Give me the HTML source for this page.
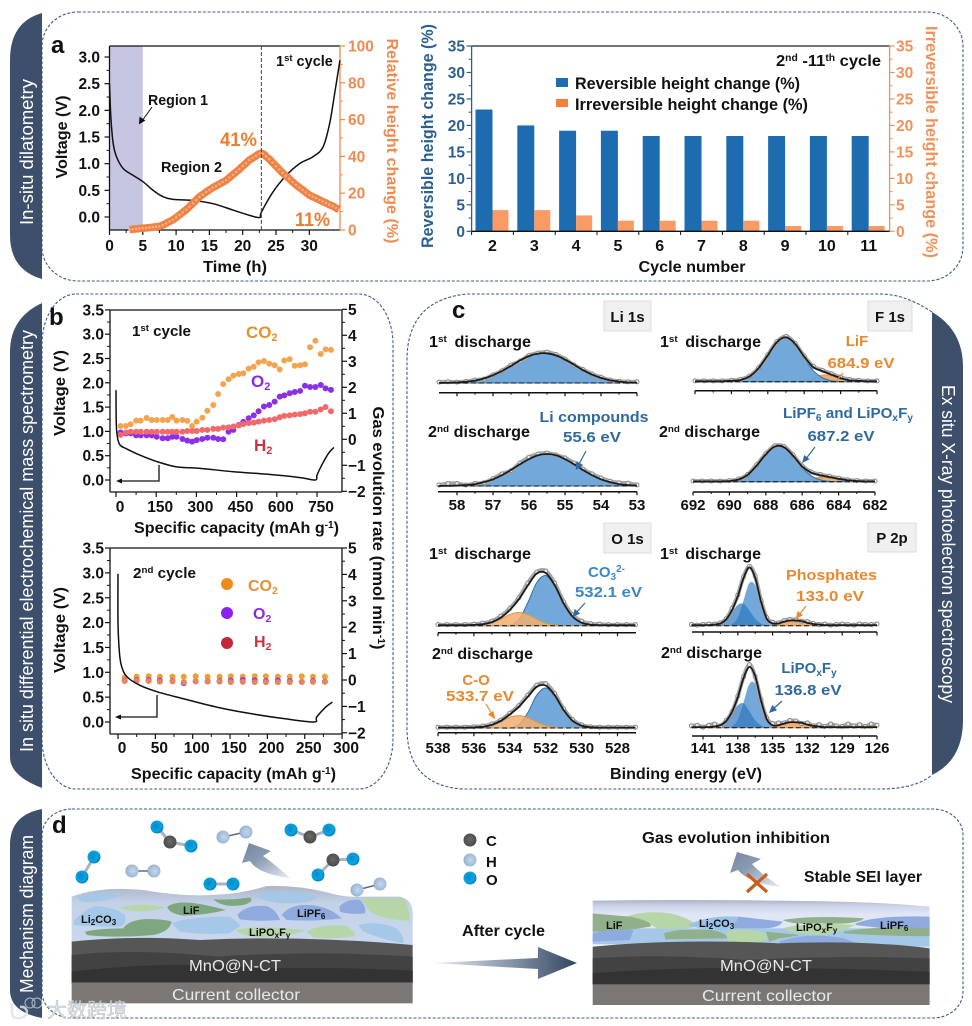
<!DOCTYPE html>
<html lang="en">
<head>
<meta charset="utf-8">
<title>Dilatometry, mass spectrometry and XPS figure</title>
<style>
html,body{margin:0;padding:0;background:#fff;width:972px;height:1026px;overflow:hidden}
svg{display:block;filter:blur(.35px)}
text{font-family:"Liberation Sans","Noto Sans CJK SC",sans-serif;font-weight:700;fill:#111}
.tab{fill:#fff;font-weight:400;font-size:18px}
.ann{font-size:16px}
.m{font-size:11px}
.light{font-weight:400;fill:#e8e8e8;font-size:16px}
.frame{fill:none;stroke:#3d5a85;stroke-width:1.1;stroke-dasharray:3 1.8}
.tabbg{fill:#3d4f6b}
</style>
</head>
<body>
<svg id="fig" xmlns="http://www.w3.org/2000/svg" width="972" height="1026" viewBox="0 0 972 1026">
<defs>
<radialGradient id="atomO" cx=".4" cy=".4" r=".7"><stop offset="0" stop-color="#0a88c8"/><stop offset=".6" stop-color="#08a4e0"/><stop offset="1" stop-color="#0a6fa8"/></radialGradient>
<radialGradient id="atomC" cx=".5" cy=".45" r=".7"><stop offset="0" stop-color="#6a6a6a"/><stop offset=".7" stop-color="#4d4d4d"/><stop offset="1" stop-color="#333"/></radialGradient>
<radialGradient id="atomH" cx=".55" cy=".5" r=".7"><stop offset="0" stop-color="#c4d8ee"/><stop offset=".65" stop-color="#a0bad6"/><stop offset="1" stop-color="#6e88a5"/></radialGradient>
<linearGradient id="seiTop" x1="0" y1="0" x2="0" y2="1"><stop offset="0" stop-color="#aeb6c8"/><stop offset=".3" stop-color="#c4d2e8"/><stop offset="1" stop-color="#c9d8ee"/></linearGradient>
<linearGradient id="seiTopAfter" x1="0" y1="0" x2="0" y2="1"><stop offset="0" stop-color="#aab3c8"/><stop offset=".14" stop-color="#cfd7ea"/><stop offset=".3" stop-color="#e0e6f6"/><stop offset="1" stop-color="#e0e6f6"/></linearGradient>
<linearGradient id="curveArrow" x1="1" y1="1" x2="0" y2="0"><stop offset="0" stop-color="#e8edf3"/><stop offset=".6" stop-color="#8a9ab2"/><stop offset="1" stop-color="#74879f"/></linearGradient>
<linearGradient id="afterArrow" x1="0" y1="0" x2="1" y2="0"><stop offset="0" stop-color="#eef1f5"/><stop offset=".5" stop-color="#8c9bb0"/><stop offset="1" stop-color="#34465f"/></linearGradient>
</defs>

<!-- Frames and tabs -->
<rect class="frame" x="42" y="12" width="921" height="269" rx="36" ry="34"/>
<path class="tabbg" d="M42 13Q10 22 10 60L10 235Q10 270 42 279Z"/>
<text class="tab" transform="rotate(-90 33 152)" x="33" y="152" text-anchor="middle" textLength="146" lengthAdjust="spacingAndGlyphs">In-situ dilatometry</text>

<rect class="frame" x="42" y="294" width="351" height="495" rx="34" ry="50"/>
<path class="tabbg" d="M42 303Q10 318 10 352L10 757Q10 776 42 788Z"/>
<text class="tab" transform="rotate(-90 33 541)" x="33" y="541" text-anchor="middle" textLength="422" lengthAdjust="spacingAndGlyphs">In situ differential electrochemical mass spectrometry</text>

<path class="frame" d="M932 312Q905 294 880 294L467 294Q407 300 407 360L407 728Q407 785 462 789L880 789Q915 789 932 775"/>
<path class="tabbg" d="M932 312Q963 330 963 367L963 720Q963 760 932 775Z"/>
<text class="tab" transform="rotate(90 942 544)" x="942" y="544" text-anchor="middle" textLength="318" lengthAdjust="spacingAndGlyphs">Ex situ X-ray photoelectron spectroscopy</text>

<rect class="frame" x="42" y="809" width="921" height="209" rx="30" ry="26"/>
<path class="tabbg" d="M42 809Q10 815 10 845L10 990Q10 1012 42 1018Z"/>
<text class="tab" transform="rotate(-90 33 914)" x="33" y="914" text-anchor="middle" textLength="158" lengthAdjust="spacingAndGlyphs">Mechanism diagram</text>

<!-- Panel letters -->
<text x="51" y="53" font-size="24">a</text>
<text x="49" y="325" font-size="24">b</text>
<text x="452" y="318" font-size="24">c</text>
<text x="52" y="833" font-size="24">d</text>

<!-- Chart layers filled by script -->
<g id="chartA"></g>
<g id="chartBars"></g>
<g id="chartB1"></g>
<g id="chartB2"></g>
<g id="chartC"></g>

<!-- Panel a annotations -->
<text font-size="16" transform="rotate(-90 67 137)" x="67" y="137" text-anchor="middle" textLength="83" lengthAdjust="spacingAndGlyphs">Voltage (V)</text>
<text font-size="16" style="fill:#ef8a50" transform="rotate(90 387 141)" x="387" y="141" text-anchor="middle" textLength="205" lengthAdjust="spacingAndGlyphs">Relative height change (%)</text>
<text font-size="16" x="235" y="272" text-anchor="middle" textLength="64" lengthAdjust="spacingAndGlyphs">Time (h)</text>
<text font-size="14.5" x="276" y="66">1<tspan dy="-5" font-size="9.5">st</tspan><tspan dy="5"> cycle</tspan></text>
<text class="ann" x="148" y="105" font-size="14.5" style="font-size:14.5px" textLength="60" lengthAdjust="spacingAndGlyphs">Region 1</text>
<text class="ann" x="161" y="172" style="font-size:14.5px" textLength="61" lengthAdjust="spacingAndGlyphs">Region 2</text>
<path d="M152 107L142 121M139.500 123.500L140 117.500L144.500 120.500Z" stroke="#111" stroke-width="1" fill="#111"/>
<text font-size="19" style="fill:#ed7d31" x="220" y="146" textLength="37" lengthAdjust="spacingAndGlyphs">41%</text>
<text font-size="19" style="fill:#ed7d31" x="295" y="226" textLength="35" lengthAdjust="spacingAndGlyphs">11%</text>

<!-- Bar chart annotations -->
<text font-size="16.500" style="fill:#2a5f8f" transform="rotate(-90 433 136)" x="433" y="136" text-anchor="middle" textLength="224" lengthAdjust="spacingAndGlyphs">Reversible height change (%)</text>
<text font-size="16.500" style="fill:#f0915a" transform="rotate(90 926 142)" x="926" y="142" text-anchor="middle" textLength="232" lengthAdjust="spacingAndGlyphs">Irreversible height change (%)</text>
<text font-size="16" x="692" y="272" text-anchor="middle" textLength="107" lengthAdjust="spacingAndGlyphs">Cycle number</text>
<text font-size="16" x="776" y="66" textLength="105" lengthAdjust="spacingAndGlyphs">2<tspan dy="-5" font-size="10">nd</tspan><tspan dy="5"> -11</tspan><tspan dy="-5" font-size="10">th</tspan><tspan dy="5"> cycle</tspan></text>
<rect x="556" y="78" width="12" height="9" fill="#1e6cb0"/>
<rect x="556" y="99" width="12" height="8" fill="#f47f3f"/>
<text font-size="16.500" x="575" y="89" textLength="225" lengthAdjust="spacingAndGlyphs">Reversible height change (%)</text>
<text font-size="16.500" x="575" y="110" textLength="233" lengthAdjust="spacingAndGlyphs">Irreversible height change (%)</text>

<!-- Panel b annotations -->
<text font-size="16" transform="rotate(-90 65 393)" x="65" y="393" text-anchor="middle" textLength="86" lengthAdjust="spacingAndGlyphs">Voltage (V)</text>
<text font-size="16" transform="rotate(-90 65 630)" x="65" y="630" text-anchor="middle" textLength="86" lengthAdjust="spacingAndGlyphs">Voltage (V)</text>
<text font-size="16" transform="rotate(90 373 528)" x="373" y="528" text-anchor="middle" textLength="243" lengthAdjust="spacingAndGlyphs">Gas evolution rate (nmol min<tspan dy="-5" font-size="10">-1</tspan><tspan dy="5">)</tspan></text>
<text font-size="16" x="134" y="533" textLength="205" lengthAdjust="spacingAndGlyphs">Specific capacity (mAh g<tspan dy="-5" font-size="10">-1</tspan><tspan dy="5">)</tspan></text>
<text font-size="16" x="131" y="779" textLength="205" lengthAdjust="spacingAndGlyphs">Specific capacity (mAh g<tspan dy="-5" font-size="10">-1</tspan><tspan dy="5">)</tspan></text>
<text font-size="15" x="132" y="336" textLength="59" lengthAdjust="spacingAndGlyphs">1<tspan dy="-5" font-size="9.5">st</tspan><tspan dy="5"> cycle</tspan></text>
<text font-size="15" x="133" y="578" textLength="63" lengthAdjust="spacingAndGlyphs">2<tspan dy="-5" font-size="9.5">nd</tspan><tspan dy="5"> cycle</tspan></text>
<text font-size="17" style="fill:#e8902f" x="246" y="338">CO<tspan dy="3" font-size="11" style="fill:#e8902f">2</tspan></text>
<text font-size="17" style="fill:#8a2be2" x="251" y="387">O<tspan dy="3" font-size="11" style="fill:#8a2be2">2</tspan></text>
<text font-size="17" style="fill:#c8343f" x="254" y="451">H<tspan dy="3" font-size="11" style="fill:#c8343f">2</tspan></text>
<path d="M159 465L159 481L121 481" fill="none" stroke="#111" stroke-width="1.300"/>
<path d="M116 481L122 478.500L122 483.500Z" fill="#111"/>
<path d="M157 695L157 717L120 717" fill="none" stroke="#111" stroke-width="1.300"/>
<path d="M115 717L121 714.500L121 719.500Z" fill="#111"/>
<circle cx="227" cy="584" r="6" fill="#ef8a1f"/>
<circle cx="227" cy="613" r="6" fill="#8a22f0"/>
<circle cx="227" cy="643" r="6" fill="#c4283a"/>
<text font-size="16" style="fill:#e8902f" x="248" y="591">CO<tspan dy="3" font-size="10.500" style="fill:#e8902f">2</tspan></text>
<text font-size="16" style="fill:#8a2be2" x="253" y="619">O<tspan dy="3" font-size="10.500" style="fill:#8a2be2">2</tspan></text>
<text font-size="16" style="fill:#c8343f" x="254" y="647">H<tspan dy="3" font-size="10.500" style="fill:#c8343f">2</tspan></text>

<!-- Panel c annotations -->
<g><rect x="604" y="301" width="47" height="30" fill="#f0f0f0" stroke="#ddd"/><text x="627.500" y="322" font-size="15" text-anchor="middle">Li 1s</text></g>
<g><rect x="868" y="301" width="44" height="30" fill="#f0f0f0" stroke="#ddd"/><text x="890" y="322" font-size="15" text-anchor="middle">F 1s</text></g>
<g><rect x="604" y="523" width="47" height="30" fill="#f0f0f0" stroke="#ddd"/><text x="627.500" y="544" font-size="15" text-anchor="middle">O 1s</text></g>
<g><rect x="868" y="523" width="48" height="29" fill="#f0f0f0" stroke="#ddd"/><text x="892" y="543" font-size="15" text-anchor="middle">P 2p</text></g>

<text font-size="15.500" x="429" y="347" textLength="102" lengthAdjust="spacingAndGlyphs">1<tspan dy="-5" font-size="9.5">st</tspan><tspan dy="5" dx="3"> discharge</tspan></text>
<text font-size="15.500" x="428" y="437" textLength="102" lengthAdjust="spacingAndGlyphs">2<tspan dy="-5" font-size="9.5">nd</tspan><tspan dy="5"> discharge</tspan></text>
<text font-size="15.500" x="660" y="347" textLength="101" lengthAdjust="spacingAndGlyphs">1<tspan dy="-5" font-size="9.5">st</tspan><tspan dy="5" dx="3"> discharge</tspan></text>
<text font-size="15.500" x="659" y="437" textLength="101" lengthAdjust="spacingAndGlyphs">2<tspan dy="-5" font-size="9.5">nd</tspan><tspan dy="5"> discharge</tspan></text>
<text font-size="15.500" x="429" y="559" textLength="102" lengthAdjust="spacingAndGlyphs">1<tspan dy="-5" font-size="9.5">st</tspan><tspan dy="5" dx="3"> discharge</tspan></text>
<text font-size="15.500" x="432" y="659" textLength="101" lengthAdjust="spacingAndGlyphs">2<tspan dy="-5" font-size="9.5">nd</tspan><tspan dy="5"> discharge</tspan></text>
<text font-size="15.500" x="660" y="559" textLength="101" lengthAdjust="spacingAndGlyphs">1<tspan dy="-5" font-size="9.5">st</tspan><tspan dy="5" dx="3"> discharge</tspan></text>
<text font-size="15.500" x="661" y="658" textLength="101" lengthAdjust="spacingAndGlyphs">2<tspan dy="-5" font-size="9.5">nd</tspan><tspan dy="5"> discharge</tspan></text>

<text font-size="15" style="fill:#2f6a9f" x="594" y="422" text-anchor="middle" textLength="109" lengthAdjust="spacingAndGlyphs">Li compounds</text>
<text font-size="15" style="fill:#2f6a9f" x="592" y="442" text-anchor="middle" textLength="58" lengthAdjust="spacingAndGlyphs">55.6 eV</text>
<path d="M586 451L578 466M576.500 469L577 462L582 465Z" stroke="#2f6a9f" stroke-width="1.200" fill="#2f6a9f"/>
<text font-size="15" style="fill:#e8892f" x="857" y="346" text-anchor="middle">LiF</text>
<text font-size="15" style="fill:#e8892f" x="861" y="368" text-anchor="middle" textLength="67" lengthAdjust="spacingAndGlyphs">684.9 eV</text>
<path d="M843 373L836 381" stroke="#e8892f" stroke-width="1.200" fill="none"/>
<text font-size="15" style="fill:#2f6a9f" x="783" y="418" textLength="130" lengthAdjust="spacingAndGlyphs">LiPF<tspan dy="3" font-size="10" style="fill:#2f6a9f">6</tspan><tspan dy="-3" style="fill:#2f6a9f"> and LiPO</tspan><tspan dy="3" font-size="10" style="fill:#2f6a9f">x</tspan><tspan dy="-3" style="fill:#2f6a9f">F</tspan><tspan dy="3" font-size="10" style="fill:#2f6a9f">y</tspan></text>
<text font-size="15" style="fill:#2f6a9f" x="841" y="441" text-anchor="middle" textLength="67" lengthAdjust="spacingAndGlyphs">687.2 eV</text>
<path d="M815 447L805 460M803 462L804.500 456L808.500 459Z" stroke="#2f6a9f" stroke-width="1.200" fill="#2f6a9f"/>
<text font-size="15" style="fill:#3b87c4" x="588" y="577">CO<tspan dy="3" font-size="10" style="fill:#3b87c4">3</tspan><tspan dy="-8" font-size="10" style="fill:#3b87c4">2-</tspan></text>
<text font-size="15" style="fill:#3b87c4" x="575" y="597" textLength="67" lengthAdjust="spacingAndGlyphs">532.1 eV</text>
<path d="M585 603L575 614M573.500 616L575 610L579 613.500Z" stroke="#2f6a9f" stroke-width="1.200" fill="#2f6a9f"/>
<text font-size="15" style="fill:#e8892f" x="476" y="685" text-anchor="middle">C-O</text>
<text font-size="15" style="fill:#e8892f" x="446" y="701" textLength="68" lengthAdjust="spacingAndGlyphs">533.7 eV</text>
<path d="M486 704L493 716M494.500 718L489 714.500L493 712Z" stroke="#e8892f" stroke-width="1.200" fill="#e8892f"/>
<text font-size="15" style="fill:#e8892f" x="786" y="580" textLength="91" lengthAdjust="spacingAndGlyphs">Phosphates</text>
<text font-size="15" style="fill:#e8892f" x="830" y="601" text-anchor="middle" textLength="68" lengthAdjust="spacingAndGlyphs">133.0 eV</text>
<path d="M806 606L798 616M796.500 618L798 612L802 615Z" stroke="#e8892f" stroke-width="1.200" fill="#e8892f"/>
<text font-size="15" style="fill:#2f6a9f" x="809" y="673" text-anchor="middle">LiPO<tspan dy="3" font-size="10" style="fill:#2f6a9f">x</tspan><tspan dy="-3" style="fill:#2f6a9f">F</tspan><tspan dy="3" font-size="10" style="fill:#2f6a9f">y</tspan></text>
<text font-size="15" style="fill:#2f6a9f" x="808" y="695" text-anchor="middle" textLength="67" lengthAdjust="spacingAndGlyphs">136.8 eV</text>
<path d="M782 701L772 710M770 712L772.500 706L776 710Z" stroke="#2f6a9f" stroke-width="1.200" fill="#2f6a9f"/>
<text font-size="16" x="610" y="779" textLength="152" lengthAdjust="spacingAndGlyphs">Binding energy (eV)</text>

<!-- Panel d left stack, coordinates in 1/3 px -->
<g transform="translate(0 800) scale(.33333)">
<path fill="url(#seiTop)" d="M215 290Q300 258 430 270Q560 292 650 284Q720 282 800 258Q900 255 1000 282Q1040 292 1080 290L1200 290Q1238 300 1238 340L1238 440L215 430Z"/>
<g>
<path fill="#a5c8e8" d="M232 290Q300 270 365 285Q300 310 250 305Q232 300 232 290Z"/>
<path fill="#b7d6a8" d="M360 322Q420 305 495 322Q430 345 360 325Z"/>
<path fill="#7fa77f" d="M502 320Q530 300 600 312Q650 322 678 330Q620 345 550 347Q505 340 502 320Z"/>
<path fill="#7fa77f" d="M640 298Q700 300 750 292Q765 305 730 315Q670 325 640 298Z"/>
<path fill="#a5c8e8" d="M765 285Q850 260 955 290Q940 310 860 310Q780 305 765 285Z"/>
<path fill="#8eaadf" d="M712 345Q740 312 800 318Q830 330 840 360Q770 365 720 358Z"/>
<path fill="#8eaadf" d="M845 345Q870 312 930 315Q990 320 1025 355Q940 365 860 360Z"/>
<path fill="#8eaadf" d="M1018 320Q1040 295 1080 300Q1100 320 1095 340Q1050 345 1020 335Z"/>
<path fill="#b7d6a8" d="M1085 298Q1150 292 1210 295Q1230 320 1228 362Q1150 360 1110 335Z"/>
<path fill="#a5c8e8" d="M222 362Q250 330 285 318Q340 320 375 345Q380 375 360 380Q280 380 222 375Z"/>
<path fill="#7fa77f" d="M255 395Q300 385 370 385Q385 360 440 357Q500 358 515 365Q510 395 460 405Q340 415 260 405Z"/>
<path fill="#a5c8e8" d="M515 370Q560 350 690 350Q720 370 720 380Q700 390 690 400Q600 405 540 395Z"/>
<path fill="#b7d6a8" d="M708 390Q750 375 915 390Q880 410 780 412Q730 410 708 392Z"/>
<path fill="#b7d6a8" d="M920 395Q960 370 1040 378Q1075 400 1060 410Q1000 418 940 412Z"/>
<path fill="#a5c8e8" d="M1075 375Q1130 360 1190 385Q1215 410 1210 430Q1150 420 1090 395Z"/>
</g>
<path fill="#565656" d="M215 425Q400 405 600 420Q900 405 1238 435L1238 548L215 548Z"/>
<path fill="#424242" d="M215 465Q400 445 650 470Q950 450 1238 470L1238 548L215 548Z"/>
<path fill="#333" d="M215 515Q500 480 800 505Q1000 500 1238 512L1238 548L215 548Z"/>
<rect x="215" y="548" width="1023" height="62" fill="#7a7775"/>
</g>

<!-- Panel d right stack, coordinates in zoomed px -->
<g transform="translate(440 800) scale(.33930 .33333)">
<path fill="url(#seiTopAfter)" d="M450 302Q700 298 1000 302Q1300 305 1443 320L1443 445L450 435Z"/>
<g>
<path fill="#a5c8e8" d="M450 385L1443 385L1443 440L450 432Z"/>
<path fill="#b7d6a8" d="M550 350Q600 330 680 340Q740 355 760 380Q720 390 640 385Q600 360 550 350Z"/>
<path fill="#8fb08a" d="M450 340Q500 345 560 350Q630 365 620 380Q530 395 450 395Z"/>
<path fill="#8eaadf" d="M880 350L1010 365Q1000 385 950 385Q900 385 860 385Z"/>
<path fill="#9cc2e8" d="M730 375Q790 345 880 350Q870 385 830 390Q770 390 730 375Z"/>
<path fill="#8fb08a" d="M1010 360Q1100 345 1250 355Q1230 375 1120 370Q1040 375 1010 360Z"/>
<path fill="#b7d6a8" d="M1010 385Q1080 365 1225 375Q1180 395 1130 405Q1050 405 1010 385Z"/>
<path fill="#8eaadf" d="M1225 370Q1290 345 1443 350L1443 385Q1330 390 1225 375Z"/>
<path fill="#8fb08a" d="M1190 395Q1300 375 1443 385L1443 408Q1350 410 1190 400Z"/>
<path fill="#8eaadf" d="M450 400Q510 385 570 390L560 420L450 425Z"/>
<path fill="#8fb08a" d="M660 400Q700 385 800 390Q850 400 845 415L665 418Z"/>
<path fill="#b7d6a8" d="M845 395Q910 380 975 405Q960 425 920 432L850 430Z"/>
<path fill="#8fb08a" d="M960 395L1060 405Q1040 410 1000 415L970 425Z"/>
<path fill="#8eaadf" d="M1000 425Q1080 395 1190 415Q1220 425 1230 432L1000 434Z"/>
</g>
<path fill="#565656" d="M450 440Q700 415 1000 430Q1250 420 1443 445L1443 553L450 553Z"/>
<path fill="#424242" d="M450 475Q650 460 900 480Q1200 465 1443 475L1443 553L450 553Z"/>
<path fill="#333" d="M450 520Q800 490 1443 515L1443 553L450 553Z"/>
<rect x="450" y="553" width="993" height="62" fill="#7a7775"/>
</g>

<!-- Molecules -->
<g><path d="M157 827L170 842L191 846" fill="none" stroke="#a8b4c4" stroke-width="3"/><circle cx="157" cy="827" r="6.500" fill="url(#atomO)"/><circle cx="170" cy="842" r="6.500" fill="url(#atomC)"/><circle cx="191" cy="846" r="6.500" fill="url(#atomO)"/></g>
<g><path d="M223 837L246 832" stroke="#5a6a80" stroke-width="1.500"/><circle cx="223" cy="837" r="6.500" fill="url(#atomH)"/><circle cx="246" cy="832" r="6.500" fill="url(#atomH)"/></g>
<g><path d="M291 830L310 837L329 830" fill="none" stroke="#a8b4c4" stroke-width="3"/><circle cx="291" cy="830" r="6.500" fill="url(#atomO)"/><circle cx="310" cy="837" r="6.500" fill="url(#atomC)"/><circle cx="329" cy="830" r="6.500" fill="url(#atomO)"/></g>
<g><path d="M94 857L82 877" stroke="#a8b4c4" stroke-width="3"/><circle cx="94" cy="857" r="6.500" fill="url(#atomO)"/><circle cx="82" cy="877" r="6.500" fill="url(#atomO)"/></g>
<g><path d="M132 871L154 871" stroke="#5a6a80" stroke-width="1.500"/><circle cx="132" cy="871" r="6.500" fill="url(#atomH)"/><circle cx="154" cy="871" r="6.500" fill="url(#atomH)"/></g>
<g><path d="M210 884L233 884" stroke="#a8b4c4" stroke-width="3"/><circle cx="210" cy="884" r="6.500" fill="url(#atomO)"/><circle cx="233" cy="884" r="6.500" fill="url(#atomO)"/></g>
<g><path d="M318 875L333 860L353 859" fill="none" stroke="#a8b4c4" stroke-width="3"/><circle cx="318" cy="875" r="6.500" fill="url(#atomO)"/><circle cx="333" cy="860" r="6.500" fill="url(#atomC)"/><circle cx="353" cy="859" r="6.500" fill="url(#atomO)"/></g>
<g><path d="M357 890L380 884" stroke="#5a6a80" stroke-width="1.500"/><circle cx="357" cy="890" r="6.500" fill="url(#atomH)"/><circle cx="380" cy="884" r="6.500" fill="url(#atomH)"/></g>

<!-- Atom legend -->
<circle cx="470" cy="840" r="6.500" fill="url(#atomC)"/>
<circle cx="470" cy="860" r="6.500" fill="url(#atomH)"/>
<circle cx="470" cy="878" r="6.500" fill="url(#atomO)"/>
<text font-size="15" x="486" y="846">C</text>
<text font-size="15" x="486" y="867">H</text>
<text font-size="15" x="486" y="885">O</text>

<!-- Arrows in d -->
<path fill="url(#curveArrow)" d="M249 843L242 863L250 861Q258 874 290 878Q272 862 263 856L271 851Z"/>
<path fill="url(#curveArrow)" d="M737 852L730 873L738 870Q748 883 781 887Q762 875 752 864L761 859Z"/>
<path d="M747 874L767 892M767 874L747 892" stroke="#c8601c" stroke-width="3.200" fill="none"/>
<path fill="url(#afterArrow)" d="M432 963L538 958L538 947L577 963L538 979L538 969Z"/>

<!-- Text in d -->
<text font-size="15.500" x="642" y="843" textLength="188" lengthAdjust="spacingAndGlyphs">Gas evolution inhibition</text>
<text font-size="15.500" x="804" y="882" textLength="118" lengthAdjust="spacingAndGlyphs">Stable SEI layer</text>
<text font-size="15.500" x="462" y="936" textLength="83" lengthAdjust="spacingAndGlyphs">After cycle</text>
<text class="m" x="81" y="923">Li<tspan dy="2" font-size="8">2</tspan><tspan dy="-2">CO</tspan><tspan dy="2" font-size="8">3</tspan></text>
<text class="m" x="183" y="914">LiF</text>
<text class="m" x="297" y="917">LiPF<tspan dy="2" font-size="8">6</tspan></text>
<text class="m" x="249" y="936">LiPO<tspan dy="2" font-size="8">x</tspan><tspan dy="-2">F</tspan><tspan dy="2" font-size="8">y</tspan></text>
<text class="m" x="606" y="929">LiF</text>
<text class="m" x="699" y="927">Li<tspan dy="2" font-size="8">2</tspan><tspan dy="-2">CO</tspan><tspan dy="2" font-size="8">3</tspan></text>
<text class="m" x="796" y="931">LiPO<tspan dy="2" font-size="8">x</tspan><tspan dy="-2">F</tspan><tspan dy="2" font-size="8">y</tspan></text>
<text class="m" x="880" y="929">LiPF<tspan dy="2" font-size="8">6</tspan></text>
<text class="light" x="235" y="971" text-anchor="middle" textLength="92" lengthAdjust="spacingAndGlyphs">MnO@N-CT</text>
<text class="light" x="236" y="1000" text-anchor="middle" textLength="128" lengthAdjust="spacingAndGlyphs">Current collector</text>
<text class="light" x="766" y="971" text-anchor="middle" textLength="92" lengthAdjust="spacingAndGlyphs">MnO@N-CT</text>
<text class="light" x="767" y="1001" text-anchor="middle" textLength="130" lengthAdjust="spacingAndGlyphs">Current collector</text>

<!-- Watermark -->
<g opacity=".85">
<path d="M12 1003L12 1014Q13 1019 20 1018Q27 1017 27 1011Q25 1006 20 1007" fill="none" stroke="#dfe3e8" stroke-width="2.500"/>
<circle cx="30" cy="1003" r="5" fill="none" stroke="#c8ccd2" stroke-width="1"/>
<circle cx="37" cy="1003" r="5" fill="none" stroke="#c8ccd2" stroke-width="1"/>
<text x="47" y="1017" font-size="20" style="fill:#dde0e4;stroke:#aab0b8;stroke-width:.5px;font-weight:400" textLength="80">大数跨境</text>
</g>

<script>
/* ---------- Panel a data ---------- */
const aTimeTicks = [0,5,10,15,20,25,30];
const aTimeLabels = ['0','5','10','15','20','25','30'];
const aVoltTicks = [0,0.5,1,1.5,2,2.5,3];
const aVoltLabels = ['0.0','0.5','1.0','1.5','2.0','2.5','3.0'];
const aHeightTicks = [0,20,40,60,80,100];
const aHeightLabels = ['0','20','40','60','80','100'];
const aRegionHours = [0,5];
const aCycleSwitchHour = [22.8];
const aVoltTime = [0,0.2,0.55,1.05,2.05,3.55,5.05,6.55,8.05,9.55,12.55,15.55,18.55,21.05,22.55,22.8,24.55,26.55,28.55,30.55,32.05,33.05,33.8,34.6];
const aVoltage = [2.5,1.88,1.38,1.13,0.91,0.78,0.66,0.5,0.38,0.33,0.31,0.25,0.13,0.03,-0.01,0.09,0.47,0.78,1.0,1.13,1.31,1.75,2.31,2.94];
const aHeightTime = [3,3.5,4,4.5,5,5.5,6,6.5,7,7.5,8,8.5,9,9.5,10,10.5,11,11.5,12,12.5,13,13.5,14,14.5,15,15.5,16,16.5,17,17.5,18,18.5,19,19.5,20,20.5,21,21.5,22,22.5,23,23.5,24,24.5,25,25.5,26,26.5,27,27.5,28,28.5,29,29.5,30,30.5,31,31.5,32,32.5,33,33.5,34,34.5];
const aHeight = [0.2,0.4,0.6,0.8,1,1.1,1.3,1.5,1.8,2,2.7,3.6,4.6,5.5,6.8,8.2,9.6,11,12.7,14.5,16.2,18,19.3,20.6,21.8,23,24,25,26,27,28.5,30,31.5,33,34.7,36.3,38,39.1,40.3,41.5,41.5,40,38.5,36.6,34.7,32.9,31,29.4,27.8,26.1,24.5,23.1,21.8,20.4,19,18.1,17.3,16.4,15.5,14.7,13.8,13,12,11];

/* ---------- Bar chart data ---------- */
const barCycles = ['2','3','4','5','6','7','8','9','10','11'];
const barReversible = [23,20,19,19,18,18,18,18,18,18];
const barIrreversible = [4,4,3,2,2,2,2,1,1,1];
const barTicks = [0,5,10,15,20,25,30,35];
const barTickLabels = ['0','5','10','15','20','25','30','35'];

/* ---------- Panel b data ---------- */
const bVoltTicks = [0,0.5,1,1.5,2,2.5,3,3.5];
const bVoltLabels = ['0.0','0.5','1.0','1.5','2.0','2.5','3.0','3.5'];
const bRateTicks = [-2,-1,0,1,2,3,4,5];
const bRateLabels = ['\u22122','\u22121','0','1','2','3','4','5'];
const b1CapTicks = [0,150,300,450,600,750];
const b1CapLabels = ['0','150','300','450','600','750'];
const b2CapTicks = [0,50,100,150,200,250,300];
const b2CapLabels = ['0','50','100','150','200','250','300'];
const b1Capacity = [17,37,55,75,92,114,133,152,174,193,210,226,248,266,284,301,322,341,363,381,400,420,438,458,475,495,514,532,552,572,592,611,628,648,667,687,705,724,744,764,782,802];
const b1Co2 = [0.51,0.51,0.58,0.72,0.72,0.82,0.74,0.74,0.74,0.74,0.86,0.72,0.74,0.71,0.51,0.68,0.83,1.10,1.32,1.74,2.12,2.31,2.45,2.51,2.54,2.72,2.79,2.96,3.01,2.91,2.85,2.69,3.03,3.08,2.83,2.85,2.88,3.54,3.79,3.28,3.46,3.44];
const b1O2 = [0.26,0.23,0.23,0.15,0.15,0.15,0.15,0.10,0.04,0.04,0.10,0.10,0.01,-0.05,-0.09,-0.03,0.01,0.06,0.06,0.01,0,0.29,0.36,0.55,0.67,0.81,0.92,1.08,1.26,1.32,1.45,1.64,1.69,1.77,1.82,1.86,2.06,2.01,2.01,2.09,1.96,1.90];
const b1H2 = [0.17,0.26,0.29,0.29,0.29,0.29,0.29,0.29,0.29,0.29,0.29,0.29,0.29,0.32,0.32,0.32,0.36,0.36,0.40,0.40,0.45,0.46,0.49,0.53,0.59,0.62,0.64,0.68,0.72,0.74,0.77,0.85,0.90,0.92,0.95,0.97,1.00,1.06,1.06,1.15,1.24,1.08];
const b1CurveCap = [0,1,5,15,40,90,152,226,313,438,562,687,744,750,768,793,813];
const b1CurveVolt = [1.85,1.17,0.89,0.72,0.64,0.51,0.38,0.27,0.24,0.17,0.12,0.05,0,0.10,0.31,0.55,0.67];
const b2Capacity = [9,25,41,56,73,88,104,120,136,151,167,183,198,214,230,246,261,277];
const b2Co2 = [0.10,0.13,0.14,0.13,0.13,0.13,0.14,0.13,0.13,0.14,0.13,0.14,0.14,0.13,0.13,0.14,0.13,0.13];
const b2O2 = [-0.02,-0.01,0,-0.02,-0.04,-0.12,-0.05,-0.05,-0.04,-0.02,0,-0.01,-0.04,-0.02,-0.04,-0.07,-0.04,-0.06];
const b2H2 = [-0.04,-0.04,-0.04,-0.06,-0.05,-0.08,-0.05,-0.06,-0.06,-0.08,-0.07,-0.08,-0.08,-0.08,-0.08,-0.07,-0.07,-0.07];
const b2CurveCap = [0,0,2,5,12,29,52,87,132,177,221,262,266,278,287];
const b2CurveVolt = [2.98,1.99,1.38,1.11,0.91,0.74,0.61,0.47,0.30,0.17,0.07,0,0.10,0.30,0.40];

/* ---------- Panel c data: binding energy and intensity (0-100) ---------- */
const liEnergy = [58.5,58.25,58,57.75,57.5,57.25,57,56.75,56.5,56.25,56,55.75,55.5,55.25,55,54.75,54.5,54.25,54,53.75,53.5,53.25,53];
const li1Fit = [0.3,0.8,1.9,4,8,15,26,40,57,75,90,98,99,92,78,61,43,28,17,9,5,2,1];
const li1Obs = [3,4,3,5,10,13,27,41,60,73,92,100,103,95,80,60,45,30,19,10,6,4,4];
const li2Fit = [0.2,0.5,1.3,3,6,12,21,34,50,68,84,96,100,96,84,68,50,34,21,12,6,3,1.3];
const li2Obs = [3,8,8,3,8,10,23,38,48,72,90,100,103,97,88,72,53,38,25,15,10,9,3];
const liTicks = [58,57,56,55,54,53];
const liTickLabels = ['58','57','56','55','54','53'];

const fEnergy = [692,691.5,691,690.5,690,689.5,689,688.5,688,687.5,687,686.5,686,685.5,685,684.5,684,683.5,683,682.5,682];
const f1Blue = [0,0,0,0.1,0.7,3,11,30,59,89,100,84,53,25,9,2,0.3,0,0,0,0];
const f1Orange = [0,0,0,0,0,0,0,0,0,0,0.5,1,3,8,15,14,8,3,1,0,0];
const f1Fit = [1,1,1,1,2,4,12,31,60,90,101,86,57,33,24,16,8,3,2,1,1];
const f1Obs = [2,2,2,2,3,5,13,32,61,91,103,87,58,35,26,18,10,5,3,2,2];
const f2Blue = [0,0,0,0.3,1.5,5,18,44,75,97,95,70,38,16,5,1,0.2,0,0,0,0];
const f2Orange = [0,0,0,0,0,0,0,0,0,0,0,1,3,8,12,11,7,3,1,0,0];
const f2Fit = [1,1,1,1,2,6,19,45,76,98,96,72,42,25,18,13,8,4,2,1,1];
const f2Obs = [2,2,2,2,3,7,20,47,78,100,98,74,44,27,20,15,10,5,3,2,2];
const fTicks = [692,690,688,686,684,682];
const fTickLabels = ['692','690','688','686','684','682'];

const oEnergy = [538,537.5,537,536.5,536,535.5,535,534.5,534,533.5,533,532.5,532,531.5,531,530.5,530,529.5,529,528.5,528,527.5,527];
const o1Blue = [0,0,0,0,0,0,0,0,0,12,45,85,99,78,43,17,5,1,0,0,0,0,0];
const o1Orange = [0,0,0,0,0.5,2,6,13,22,26,22,13,5,1.5,0,0,0,0,0,0,0,0,0];
const o1Fit = [1,1,1,1,1.5,3,7,16,31,52,79,103,104,80,44,18,6,2,1,1,1,1,1];
const o1Obs = [2,2,2,2,3,5,9,19,34,55,84,106,108,84,47,21,9,4,3,2,2,2,2];
const o2Blue = [0,0,0,0,0,0,0,0,0,8,38,82,100,80,44,17,5,1,0,0,0,0,0];
const o2Orange = [0,0,0,0,0.5,2,7,16,27,31,26,15,6,2,0,0,0,0,0,0,0,0,0];
const o2Fit = [1,1,1,1,1.5,3,8,18,34,53,78,103,106,82,45,18,6,2,1,1,1,1,1];
const o2Obs = [2,2,2,2,3,5,10,20,37,56,82,107,111,86,48,21,8,3,2,2,2,2,2];
const oTicks = [538,536,534,532,530,528];
const oTickLabels = ['538','536','534','532','530','528'];

const pEnergy = [142,141.5,141,140.5,140,139.5,139,138.5,138,137.5,137,136.5,136,135.5,135,134.5,134,133.5,133,132.5,132,131.5,131,130.5,130,129.5,129,128.5,128,127.5,127,126.5,126];
const p1BlueA = [0,0,0,0,0,0,0,2.6,14,44,74,70,37,10.5,1.7,0,0,0,0,0,0,0,0,0,0,0,0,0,0,0,0,0,0];
const p1BlueB = [0,0,0,0,0.5,2.7,9.7,23,36,38,26,12,3.6,0.7,0,0,0,0,0,0,0,0,0,0,0,0,0,0,0,0,0,0,0];
const p1Orange = [0,0,0,0,0,0,0,0,0,0,0,0,0,0,1,3,6,8,8,7,4,2,1,0,0,0,0,0,0,0,0,0,0];
const p1Fit = [1,1,1,1,2,4,11,27,51,83,101,83,42,12,4,4,7,9,9,8,5,3,2,1,1,1,1,1,1,1,1,1,1];
const p1Obs = [2,1,2,3,3,5,12,30,53,85,103,86,44,14,6,5,9,11,10,8,7,4,2,3,1,2,3,2,1,3,2,2,3];
const p2BlueA = [0,0,0,0,0,0,0,2,13,42,72,72,40,12,2,0,0,0,0,0,0,0,0,0,0,0,0,0,0,0,0,0,0];
const p2BlueB = [0,0,0,0,0.5,2.7,10,23,37,40,27,12,3.6,0.7,0,0,0,0,0,0,0,0,0,0,0,0,0,0,0,0,0,0,0];
const p2Orange = [0,0,0,0,0,0,0,0,0,0,0,0,0,0,1,3,6,8,9,7,4,2,1,0,0,0,0,0,0,0,0,0,0];
const p2Fit = [1,1,1,1,2,4,11,26,50,82,100,85,45,14,4,4,7,9,9,8,5,3,2,1,1,1,1,1,1,1,1,1,1];
const p2Obs = [3,4,1,4,6,3,12,26,52,84,104,84,46,16,7,8,8,12,11,7,8,3,5,2,6,3,2,6,3,5,2,6,4];
const pTicks = [141,138,135,132,129,126];
const pTickLabels = ['141','138','135','132','129','126'];

/* ---------- Helpers ---------- */
const NS = 'http://www.w3.org/2000/svg';
function el(tag, attrs, parent) {
  const n = document.createElementNS(NS, tag);
  for (const k in attrs) n.setAttribute(k, attrs[k]);
  parent.appendChild(n);
  return n;
}
function rule(parent, x1, y1, x2, y2, color, width, name) {
  const n = el('line', {x1: x1, y1: y1, x2: x2, y2: y2, stroke: color, 'stroke-width': width}, parent);
  
  
  return n;
}
function label(parent, x, y, str, anchor, color, size, name) {
  const n = el('text', {x: x, y: y, 'text-anchor': anchor, 'font-size': size, style: 'fill:' + color}, parent);
  n.textContent = str;
  
  
  return n;
}
function smooth(px, py) {
  let d = 'M' + px[0].toFixed(2) + ' ' + py[0].toFixed(2);
  for (let i = 0; i < px.length - 1; i++) {
    const a = Math.max(i - 1, 0), b = Math.min(i + 2, px.length - 1);
    const c1x = px[i] + (px[i + 1] - px[a]) / 6, c1y = py[i] + (py[i + 1] - py[a]) / 6;
    const c2x = px[i + 1] - (px[b] - px[i]) / 6, c2y = py[i + 1] - (py[b] - py[i]) / 6;
    d += 'C' + c1x.toFixed(2) + ' ' + c1y.toFixed(2) + ' ' + c2x.toFixed(2) + ' ' + c2y.toFixed(2) + ' ' + px[i + 1].toFixed(2) + ' ' + py[i + 1].toFixed(2);
  }
  return d;
}
function curve(parent, xs, ys, fx, fy, color, width, name) {
  const n = el('path', {d: smooth(xs.map(fx), ys.map(fy)), fill: 'none', stroke: color, 'stroke-width': width, 'stroke-linejoin': 'round'}, parent);
  
  
  return n;
}
function dot(parent, x, y, r, fill, stroke, name) {
  const n = el('circle', {cx: x, cy: y, r: r, fill: fill, stroke: stroke, 'stroke-width': stroke === 'none' ? 0 : 1}, parent);
  
  
  return n;
}
function ticksY(parent, axisX, dir, values, labels, fy, color, minorStep, textX, anchor, tcolor, prefix) {
  values.forEach(function (v, i) {
    rule(parent, axisX, fy(v), axisX + dir * 5, fy(v), color, 1.2, prefix + '-tick');
    label(parent, textX, fy(v) + 5.5, labels[i], anchor, tcolor, 15.5, prefix + '-tick-label');
    if (i < values.length - 1) {
      rule(parent, axisX, fy(v + minorStep), axisX + dir * 3, fy(v + minorStep), color, 1, prefix + '-minor-tick');
    }
  });
}
function ticksX(parent, axisY, values, labels, fx, color, minorStep, textY, textOffset, prefix) {
  values.forEach(function (v, i) {
    rule(parent, fx(v), axisY, fx(v), axisY + 5, color, 1.2, prefix + '-tick');
    label(parent, fx(v) + textOffset, textY, labels[i], 'middle', '#111', 15.5, prefix + '-tick-label');
    if (i < values.length - 1) {
      rule(parent, fx(v + minorStep), axisY, fx(v + minorStep), axisY + 3, color, 1, prefix + '-minor-tick');
    }
  });
}

/* ---------- Panel a ---------- */
(function () {
  const g = document.getElementById('chartA');
  const fx = function (t) { return 109.5 + t * 6.66; };
  const fv = function (v) { return 217 - v * 53.33; };
  const fh = function (p) { return 230 - p * 1.84; };
  const region = el('rect', {x: fx(aRegionHours[0]), y: 46, width: fx(aRegionHours[1]) - fx(aRegionHours[0]), height: 184, fill: '#c6c6e3'}, g);
  
  
  rule(g, 109.5, 46, 340, 46, '#111', 1.3, 'top-axis');
  rule(g, 109.5, 46, 109.5, 230, '#111', 1.3, 'voltage-axis');
  rule(g, 109.5, 230, 340, 230, '#111', 1.3, 'time-axis');
  rule(g, 340, 46, 340, 230, '#ef8a50', 1.3, 'relative-height-axis');
  ticksY(g, 109.5, -1, aVoltTicks, aVoltLabels, fv, '#111', 0.25, 100, 'end', '#111', 'voltage');
  ticksY(g, 340, 1, aHeightTicks, aHeightLabels, fh, '#ef8a50', 10, 348, 'start', '#ef8a50', 'relative-height');
  ticksX(g, 230, aTimeTicks, aTimeLabels, fx, '#111', 2.5, 251, 0, 'time');
  curve(g, aVoltTime, aVoltage, fx, fv, '#111', 1.5, 'voltage-curve');
  curve(g, aHeightTime, aHeight, fx, fh, '#ef8345', 7.5, 'relative-height-band');
  aHeightTime.forEach(function (t, i) {
    dot(g, fx(t), fh(aHeight[i]), 1.2, '#f7b48c', 'none', 'relative-height-point');
  });
  const sw = rule(g, fx(aCycleSwitchHour[0]), 46, fx(aCycleSwitchHour[0]), 230, '#444', 1, 'cycle-switch-line');
  sw.setAttribute('stroke-dasharray', '4 2');
})();

/* ---------- Bar chart ---------- */
(function () {
  const g = document.getElementById('chartBars');
  const step = 41.8, left = 471.6, right = left + step * barCycles.length;
  const cx = function (i) { return left + step * (i + 0.5); };
  const fy = function (v) { return 231.3 - v * 5.294; };
  rule(g, left, 46, right, 46, '#222', 1.3, 'top-axis');
  rule(g, left, 46, left, 231.3, '#2a5f8f', 1.3, 'reversible-axis');
  rule(g, right, 46, right, 231.3, '#f0915a', 1.3, 'irreversible-axis');
  barCycles.forEach(function (c, i) {
    const b = el('rect', {x: cx(i) - 17, y: fy(barReversible[i]), width: 17, height: fy(0) - fy(barReversible[i]), fill: '#1e6cb0'}, g);
    
    
    const o = el('rect', {x: cx(i), y: fy(barIrreversible[i]), width: 16, height: fy(0) - fy(barIrreversible[i]), fill: '#fa9a65'}, g);
    
    
    label(g, cx(i), 251, c, 'middle', '#111', 16, 'cycle-tick-label');
    rule(g, left + step * i, 231.3, left + step * i, 235, '#111', 1, 'cycle-tick');
  });
  rule(g, left, 231.3, right, 231.3, '#111', 1.3, 'cycle-axis');
  ticksY(g, left, -1, barTicks, barTickLabels, fy, '#2a5f8f', 2.5, 465, 'end', '#2a5f8f', 'reversible');
  ticksY(g, right, 1, barTicks, barTickLabels, fy, '#f0915a', 2.5, 896, 'start', '#f0915a', 'irreversible');
})();

/* ---------- Panel b ---------- */
function gasPlot(g, top, bottom, volt0, voltPx, rate0, ratePx, cap0, capPx, capTicks, capLabels, capMinor, tickY, caps, co2, o2, h2, cc, cv, colors, radius, prefix) {
  const fx = function (c) { return cap0 + c * capPx; };
  const fv = function (v) { return volt0 - v * voltPx; };
  const fr = function (r) { return rate0 - r * ratePx; };
  rule(g, 110, top, 342, top, '#111', 1.3, prefix + '-top-axis');
  rule(g, 110, top, 110, bottom, '#111', 1.3, prefix + '-voltage-axis');
  rule(g, 342, top, 342, bottom, '#111', 1.3, prefix + '-rate-axis');
  rule(g, 110, bottom, 342, bottom, '#111', 1.3, prefix + '-capacity-axis');
  ticksY(g, 110, -1, bVoltTicks, bVoltLabels, fv, '#111', 0.25, 104, 'end', '#111', prefix + '-voltage');
  ticksY(g, 342, 1, bRateTicks, bRateLabels, fr, '#111', 0.5, 348, 'start', '#111', prefix + '-rate');
  ticksX(g, bottom, capTicks, capLabels, fx, '#111', capMinor, tickY, 4, prefix + '-capacity');
  caps.forEach(function (c, i) { dot(g, fx(c), fr(co2[i]), radius, colors[0], 'none', prefix + '-co2-point'); });
  caps.forEach(function (c, i) { dot(g, fx(c), fr(o2[i]), radius, colors[1], 'none', prefix + '-o2-point'); });
  caps.forEach(function (c, i) { dot(g, fx(c), fr(h2[i]), radius, colors[2], 'none', prefix + '-h2-point'); });
  curve(g, cc, cv, fx, fv, '#111', 1.5, prefix + '-voltage-curve');
}
gasPlot(document.getElementById('chartB1'), 310, 492, 480, 48.6, 439.3, 26, 116, 0.268, b1CapTicks, b1CapLabels, 75, 512, b1Capacity, b1Co2, b1O2, b1H2, b1CurveCap, b1CurveVolt, ['#f2a450', '#8b2fe8', '#f2686b'], 3, 'first-cycle');
gasPlot(document.getElementById('chartB2'), 548, 734, 722, 49.7, 680, 26.4, 118, 0.747, b2CapTicks, b2CapLabels, 25, 753, b2Capacity, b2Co2, b2O2, b2H2, b2CurveCap, b2CurveVolt, ['#f0a030', '#8b3fe0', '#e8845e'], 3, 'second-cycle');

/* ---------- Panel c ---------- */
function xpsPlot(g, energy, x0, e0, pxPerEv, axisY, xStart, xEnd, base, peakPx, comps, fit, obs, ticks, labels, minor, labelY, prefix) {
  const fx = function (e) { return x0 + (e0 - e) * pxPerEv; };
  const fy = function (v) { return base - v * peakPx / 100; };
  comps.forEach(function (comp) {
    const xs = energy.map(fx), ys = comp.values.map(fy);
    const area = el('path', {d: smooth(xs, ys) + 'L' + xs[xs.length - 1] + ' ' + base + 'L' + xs[0] + ' ' + base + 'Z', fill: comp.fill, 'fill-opacity': comp.opacity, stroke: comp.edge, 'stroke-width': 1}, g);
    
    
  });
  curve(g, energy, obs, fx, fy, '#a8a8a8', 4, prefix + '-data-band');
  energy.forEach(function (e, i) {
    dot(g, fx(e), fy(obs[i]), 2, 'rgba(255,255,255,.7)', '#888', prefix + '-data-point');
  });
  const bl = rule(g, xStart, base, xEnd, base, '#111', 1, prefix + '-baseline');
  bl.setAttribute('stroke-dasharray', '5 3');
  curve(g, energy, fit, fx, fy, '#1c1c1c', 1.8, prefix + '-fit-curve');
  rule(g, xStart, axisY, xEnd, axisY, '#111', 1.5, prefix + '-axis');
  ticks.forEach(function (t, i) {
    rule(g, fx(t), axisY, fx(t), axisY + 3.5, '#111', 1.2, prefix + '-tick');
    if (i < ticks.length - 1) {
      rule(g, fx(t - minor), axisY, fx(t - minor), axisY + 2, '#111', 1, prefix + '-minor-tick');
    }
    if (labels) {
      label(g, fx(t), labelY, labels[i], 'middle', '#111', 15, prefix + '-tick-label');
    }
  });
}
(function () {
  const g = document.getElementById('chartC');
  const B = '#6aa3d8', BE = '#2e6fa8', B2 = '#2e78be', O = '#f2ae6e', OE = '#e0963f';
  xpsPlot(g, liEnergy, 457, 58, 36, 392.7, 439, 637, 383, 30, [{name: 'li', values: li1Fit, fill: B, opacity: .95, edge: BE}], li1Fit, li1Obs, liTicks, null, 0.5, 0, 'li-first');
  xpsPlot(g, liEnergy, 457, 58, 36, 491.7, 438, 637, 486, 32, [{name: 'li', values: li2Fit, fill: B, opacity: .95, edge: BE}], li2Fit, li2Obs, liTicks, liTickLabels, 0.5, 510, 'li-second');
  xpsPlot(g, fEnergy, 695, 692, 18.2, 390.7, 695, 877, 381.7, 44, [{name: 'lif', values: f1Orange, fill: O, opacity: 1, edge: OE}, {name: 'lipf6', values: f1Blue, fill: B, opacity: .95, edge: BE}], f1Fit, f1Obs, fTicks, null, 1, 0, 'f-first');
  xpsPlot(g, fEnergy, 693, 692, 18.2, 492, 693, 875, 481.7, 36, [{name: 'lif', values: f2Orange, fill: O, opacity: 1, edge: OE}, {name: 'lipf6', values: f2Blue, fill: B, opacity: .95, edge: BE}], f2Fit, f2Obs, fTicks, fTickLabels, 1, 510, 'f-second');
  xpsPlot(g, oEnergy, 438, 538, 17.95, 632.7, 438, 636, 625.7, 50.7, [{name: 'carbonate', values: o1Blue, fill: B, opacity: .95, edge: BE}, {name: 'c-o', values: o1Orange, fill: O, opacity: .85, edge: OE}], o1Fit, o1Obs, oTicks, null, 1, 0, 'o-first');
  xpsPlot(g, oEnergy, 438, 538, 17.95, 732.7, 438, 636, 728, 40, [{name: 'carbonate', values: o2Blue, fill: B, opacity: .95, edge: BE}, {name: 'c-o', values: o2Orange, fill: O, opacity: .85, edge: OE}], o2Fit, o2Obs, oTicks, oTickLabels, 1, 753, 'o-second');
  xpsPlot(g, pEnergy, 703, 141, 11.6, 632, 692, 877, 625.7, 57.7, [{name: 'phosphate', values: p1Orange, fill: O, opacity: 1, edge: OE}, {name: 'lipoxfy-a', values: p1BlueA, fill: B, opacity: .95, edge: 'none'}, {name: 'lipoxfy-b', values: p1BlueB, fill: B2, opacity: .7, edge: 'none'}], p1Fit, p1Obs, pTicks, null, 1.5, 0, 'p-first');
  xpsPlot(g, pEnergy, 703, 141, 11.6, 736, 692, 877, 727.7, 60.7, [{name: 'phosphate', values: p2Orange, fill: O, opacity: 1, edge: OE}, {name: 'lipoxfy-a', values: p2BlueA, fill: B, opacity: .95, edge: 'none'}, {name: 'lipoxfy-b', values: p2BlueB, fill: B2, opacity: .7, edge: 'none'}], p2Fit, p2Obs, pTicks, pTickLabels, 1.5, 753, 'p-second');
})();
</script>
</svg>
</body>
</html>
